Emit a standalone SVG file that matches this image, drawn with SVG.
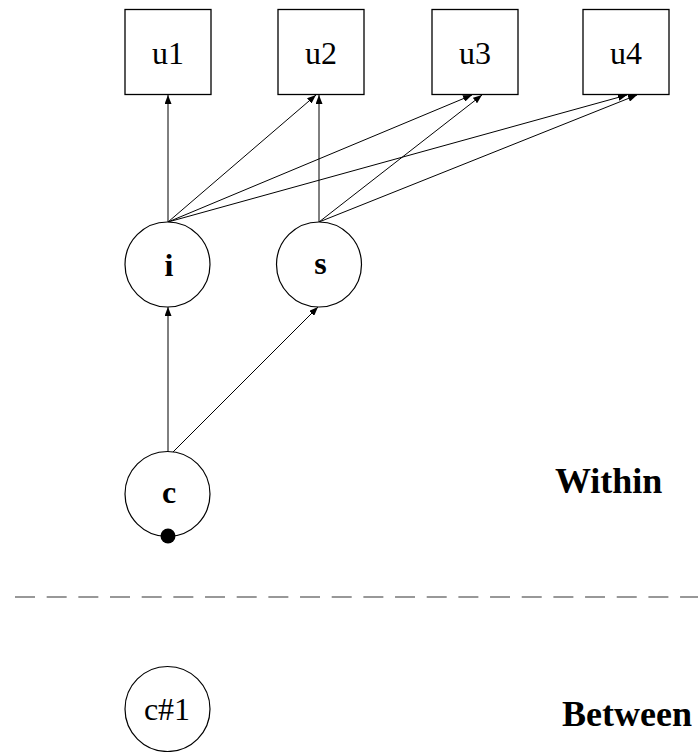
<svg xmlns="http://www.w3.org/2000/svg" width="698" height="752" viewBox="0 0 698 752">
<style>
.box{fill:#fff;stroke:#000;stroke-width:1.3}
.circ{fill:#fff;stroke:#000;stroke-width:1.2}
.lbl{font-family:"Liberation Serif","Times New Roman",serif;font-size:32px;fill:#000;text-anchor:middle}
.b{font-weight:bold}
.edge{stroke:#000;stroke-width:1;fill:none;marker-end:url(#ah)}
.lvl{font-family:"Liberation Serif","Times New Roman",serif;font-size:36px;font-weight:bold;fill:#000}
</style>
<defs>
<marker id="ah" markerWidth="9" markerHeight="7" refX="9" refY="3.5" orient="auto" markerUnits="userSpaceOnUse">
<path d="M0,0 L9,3.5 L0,7 z" fill="#000"/>
</marker>
</defs>
<rect width="698" height="752" fill="#fff"/>
<g id="connectors">
<line class="edge" x1="168" y1="222" x2="168" y2="95"/>
<line class="edge" x1="168" y1="222" x2="316" y2="95"/>
<line class="edge" x1="168" y1="222" x2="472" y2="95"/>
<line class="edge" x1="168" y1="222" x2="627" y2="95"/>
<line class="edge" x1="319" y1="222" x2="319" y2="95"/>
<line class="edge" x1="319" y1="222" x2="482" y2="95"/>
<line class="edge" x1="319" y1="222" x2="637" y2="95"/>
<line class="edge" x1="168" y1="452" x2="168" y2="307"/>
<line class="edge" x1="173" y1="452" x2="318" y2="307"/>
</g>
<g id="u1"><rect class="box" x="125" y="9.5" width="86" height="85"/><text class="lbl" x="168" y="64">u1</text></g>
<g id="u2"><rect class="box" x="278" y="9.5" width="86" height="85"/><text class="lbl" x="321" y="64">u2</text></g>
<g id="u3"><rect class="box" x="432" y="9.5" width="86" height="85"/><text class="lbl" x="475" y="64">u3</text></g>
<g id="u4"><rect class="box" x="583" y="9.5" width="86" height="85"/><text class="lbl" x="626" y="64">u4</text></g>
<g id="i"><circle class="circ" cx="167.5" cy="264.5" r="42.5"/><text class="lbl b" x="169" y="276">i</text></g>
<g id="s"><circle class="circ" cx="319" cy="264.5" r="42.5"/><text class="lbl b" x="320.5" y="274">s</text></g>
<g id="c"><circle class="circ" cx="167.5" cy="494" r="42.5"/><text class="lbl b" x="169" y="503">c</text><circle cx="168" cy="536" r="7.5" fill="#000"/></g>
<g id="separator"><line x1="15" y1="597" x2="698" y2="597" stroke="#333" stroke-width="1.2" stroke-dasharray="20 11.67"/></g>
<g id="c1"><circle class="circ" cx="167.5" cy="709" r="42.5"/><text class="lbl" x="167" y="720">c#1</text></g>
<g id="labels">
<text class="lvl" x="555" y="493">Within</text>
<text class="lvl" x="562" y="726">Between</text>
</g>
</svg>
